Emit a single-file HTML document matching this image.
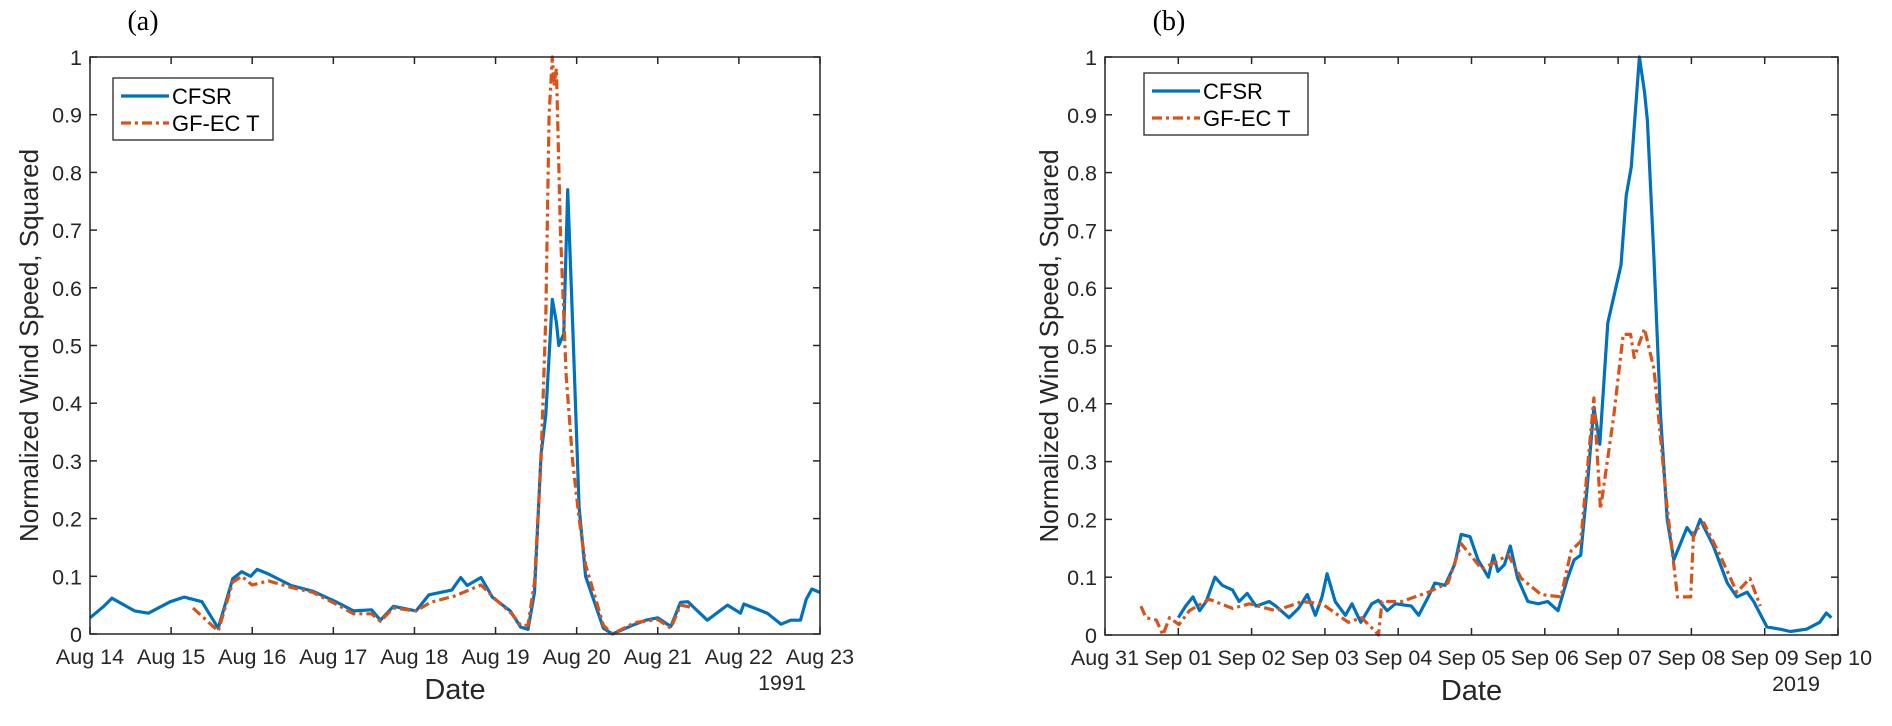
<!DOCTYPE html>
<html><head><meta charset="utf-8">
<style>
html,body{margin:0;padding:0;background:#fff;}
svg{display:block;font-family:"Liberation Sans",sans-serif;}
</style></head>
<body>
<svg id="fig" width="1892" height="726" viewBox="0 0 1892 726" xmlns="http://www.w3.org/2000/svg"></svg>
<script>
// Panel (a) data: days since Aug 14 1991
const aCfsrDays=[0,0.17,0.27,0.55,0.72,0.99,1.16,1.38,1.58,1.76,1.87,1.98,2.06,2.2,2.48,2.75,3.03,3.25,3.47,3.58,3.74,4.02,4.18,4.46,4.57,4.65,4.82,4.96,5.18,5.31,5.4,5.48,5.56,5.62,5.7,5.75,5.78,5.84,5.89,5.95,6.03,6.11,6.33,6.44,6.72,6.85,7.0,7.16,7.28,7.37,7.61,7.86,8.02,8.06,8.35,8.52,8.64,8.76,8.83,8.9,9.0];
const aCfsrVals=[0.028,0.048,0.062,0.04,0.036,0.056,0.064,0.056,0.01,0.096,0.108,0.1,0.112,0.104,0.084,0.074,0.056,0.04,0.042,0.024,0.048,0.04,0.068,0.076,0.098,0.084,0.098,0.064,0.04,0.012,0.008,0.072,0.31,0.38,0.58,0.54,0.5,0.52,0.77,0.54,0.22,0.1,0.01,0,0.017,0.024,0.028,0.013,0.055,0.056,0.024,0.05,0.036,0.052,0.036,0.017,0.024,0.024,0.06,0.078,0.072];
const aGfDays=[1.27,1.58,1.76,1.87,2.0,2.2,2.5,2.75,3.03,3.25,3.47,3.58,3.74,4.02,4.2,4.5,4.82,5.0,5.2,5.31,5.4,5.48,5.56,5.62,5.66,5.7,5.72,5.75,5.8,5.87,5.95,6.03,6.11,6.33,6.44,6.72,7.0,7.16,7.28,7.45];
const aGfVals=[0.045,0.005,0.09,0.1,0.085,0.092,0.08,0.072,0.052,0.035,0.035,0.022,0.045,0.04,0.055,0.066,0.085,0.06,0.035,0.015,0.015,0.09,0.3,0.55,0.9,1.0,0.95,0.98,0.7,0.45,0.3,0.2,0.12,0.015,0,0.02,0.025,0.01,0.05,0.045];
const aTicks=["Aug 14","Aug 15","Aug 16","Aug 17","Aug 18","Aug 19","Aug 20","Aug 21","Aug 22","Aug 23"];
// Panel (b) data: days since Aug 31 2019
const bCfsrDays=[1.0,1.1,1.2,1.29,1.38,1.5,1.6,1.74,1.83,1.94,2.06,2.24,2.33,2.51,2.64,2.76,2.87,2.96,3.03,3.14,3.28,3.37,3.49,3.64,3.73,3.85,3.96,4.18,4.28,4.41,4.5,4.64,4.77,4.86,4.98,5.09,5.23,5.3,5.36,5.45,5.53,5.63,5.77,5.91,6.04,6.18,6.31,6.4,6.49,6.58,6.67,6.75,6.86,7.04,7.11,7.18,7.29,7.36,7.4,7.49,7.58,7.67,7.76,7.94,8.03,8.12,8.3,8.49,8.62,8.76,8.85,9.03,9.21,9.35,9.57,9.75,9.84,9.91];
const bCfsrVals=[0.03,0.05,0.066,0.042,0.058,0.1,0.086,0.078,0.058,0.072,0.05,0.058,0.05,0.03,0.046,0.07,0.034,0.066,0.106,0.058,0.034,0.054,0.022,0.054,0.06,0.042,0.054,0.05,0.034,0.066,0.09,0.086,0.122,0.174,0.17,0.13,0.1,0.138,0.11,0.122,0.154,0.098,0.058,0.054,0.058,0.042,0.098,0.13,0.138,0.258,0.394,0.33,0.54,0.64,0.76,0.81,1.0,0.94,0.89,0.65,0.378,0.2,0.13,0.186,0.17,0.2,0.154,0.09,0.066,0.074,0.058,0.014,0.01,0.006,0.01,0.022,0.038,0.03];
const bGfDays=[0.49,0.56,0.7,0.79,0.88,1.01,1.15,1.42,1.74,1.97,2.33,2.69,2.96,3.32,3.5,3.69,3.73,3.78,4.05,4.41,4.68,4.86,5.14,5.5,5.68,5.95,6.22,6.36,6.49,6.67,6.76,6.94,7.07,7.17,7.22,7.36,7.49,7.67,7.81,7.99,8.03,8.17,8.39,8.62,8.8,8.94];
const bGfVals=[0.05,0.03,0.026,0.0,0.03,0.018,0.042,0.062,0.046,0.054,0.042,0.058,0.054,0.022,0.03,0.006,0.0,0.058,0.058,0.074,0.09,0.158,0.114,0.138,0.098,0.07,0.066,0.146,0.162,0.41,0.218,0.378,0.52,0.52,0.48,0.53,0.46,0.22,0.066,0.066,0.178,0.194,0.138,0.074,0.098,0.05];
const bTicks=["Aug 31","Sep 01","Sep 02","Sep 03","Sep 04","Sep 05","Sep 06","Sep 07","Sep 08","Sep 09","Sep 10"];
const yTicks=["0","0.1","0.2","0.3","0.4","0.5","0.6","0.7","0.8","0.9","1"];

const NS="http://www.w3.org/2000/svg";
const svg=document.getElementById('fig');
function mk(tag,attrs,parent,text){const e=document.createElementNS(NS,tag);for(const k in attrs)e.setAttribute(k,attrs[k]);if(text!==undefined)e.textContent=text;(parent||svg).appendChild(e);return e;}

function panel(p){
  const g=mk('g',{});
  
  
  const nd=p.ticks.length-1;
  const X=d=>p.x0+(p.x1-p.x0)*d/nd;
  const Y=v=>p.y0-(p.y0-p.y1)*v;
  const series=[[p.cDays,p.cVals,'#0072BD','', 'cfsr-line'],[p.gDays,p.gVals,'#D95319','10,4,3,4','gfect-line']];
  for(const s of series){
    let d='';
    for(let i=0;i<s[0].length;i++)d+=(i?'L':'M')+X(s[0][i]).toFixed(1)+','+Y(s[1][i]).toFixed(1);
    const pa=mk('path',{d:d,fill:'none',stroke:s[2],'stroke-width':3.2,'stroke-linejoin':'round','stroke-dasharray':s[3]},g);
    
    
  }
  const box=mk('rect',{x:p.x0,y:p.y1,width:p.x1-p.x0,height:p.y0-p.y1,fill:'none',stroke:'#262626','stroke-width':1.5},g);
  
  
  for(let i=0;i<=nd;i++){
    const x=X(i);
    mk('line',{x1:x,x2:x,y1:p.y0,y2:p.y0-7,stroke:'#262626','stroke-width':1.5},g);
    mk('line',{x1:x,x2:x,y1:p.y1,y2:p.y1+7,stroke:'#262626','stroke-width':1.5},g);
    const t=mk('text',{x:x,y:p.y0+30,'text-anchor':'middle','font-size':21.5,fill:'#262626'},g,p.ticks[i]);
    
    
  }
  for(let i=0;i<yTicks.length;i++){
    const y=Y(i/10);
    mk('line',{x1:p.x0,x2:p.x0+7,y1:y,y2:y,stroke:'#262626','stroke-width':1.5},g);
    mk('line',{x1:p.x1,x2:p.x1-7,y1:y,y2:y,stroke:'#262626','stroke-width':1.5},g);
    const t=mk('text',{x:p.x0-8,y:y+8,'text-anchor':'end','font-size':21.5,fill:'#262626'},g,yTicks[i]);
    
    
  }
  const yr=mk('text',{x:p.yearX,y:p.y0+56,'text-anchor':'middle','font-size':21.5,fill:'#262626'},g,p.year);
  
  
  const xt=mk('text',{x:(p.x0+p.x1)/2,y:p.y0+65,'text-anchor':'middle','font-size':29,fill:'#262626'},g,'Date');
  
  
  const yt=mk('text',{x:0,y:0,'text-anchor':'middle','font-size':26,fill:'#262626',transform:'translate('+p.ylx+','+((p.y0+p.y1)/2)+') rotate(-90)'},g,'Normalized Wind Speed, Squared');
  
  
  const pl=mk('text',{x:p.plx,y:30,'text-anchor':'middle','font-size':28,'font-family':'Liberation Serif, serif',fill:'#000'},g,p.plabel);
  
  
  const lg=mk('g',{},g);
  
  
  mk('rect',{x:p.lx,y:p.ly,width:p.lw,height:62,fill:'#fff',stroke:'#262626','stroke-width':1.3},lg);
  const le=[['CFSR','#0072BD','','legend-entry-cfsr'],['GF-EC T','#D95319','10,4,3,4','legend-entry-gfect']];
  le.forEach((e,i)=>{
    const yy=p.ly+18+i*27;
    const eg=mk('g',{},lg);
    
    
    mk('line',{x1:p.lx+8,x2:p.lx+56,y1:yy,y2:yy,stroke:e[1],'stroke-width':3.2,'stroke-dasharray':e[2]},eg);
    mk('text',{x:p.lx+59,y:yy+8,'font-size':22,fill:'#000'},eg,e[0]);
  });
}
panel({name:'panel-a',x0:90,x1:820,y0:634,y1:57,ticks:aTicks,cDays:aCfsrDays,cVals:aCfsrVals,gDays:aGfDays,gVals:aGfVals,year:'1991',yearX:782,ylx:38,plx:143,plabel:'(a)',lx:113,ly:78,lw:160});
panel({name:'panel-b',x0:1105,x1:1838,y0:635,y1:57,ticks:bTicks,cDays:bCfsrDays,cVals:bCfsrVals,gDays:bGfDays,gVals:bGfVals,year:'2019',yearX:1796,ylx:1058,plx:1169,plabel:'(b)',lx:1144,ly:73,lw:164});
</script>
</body></html>
